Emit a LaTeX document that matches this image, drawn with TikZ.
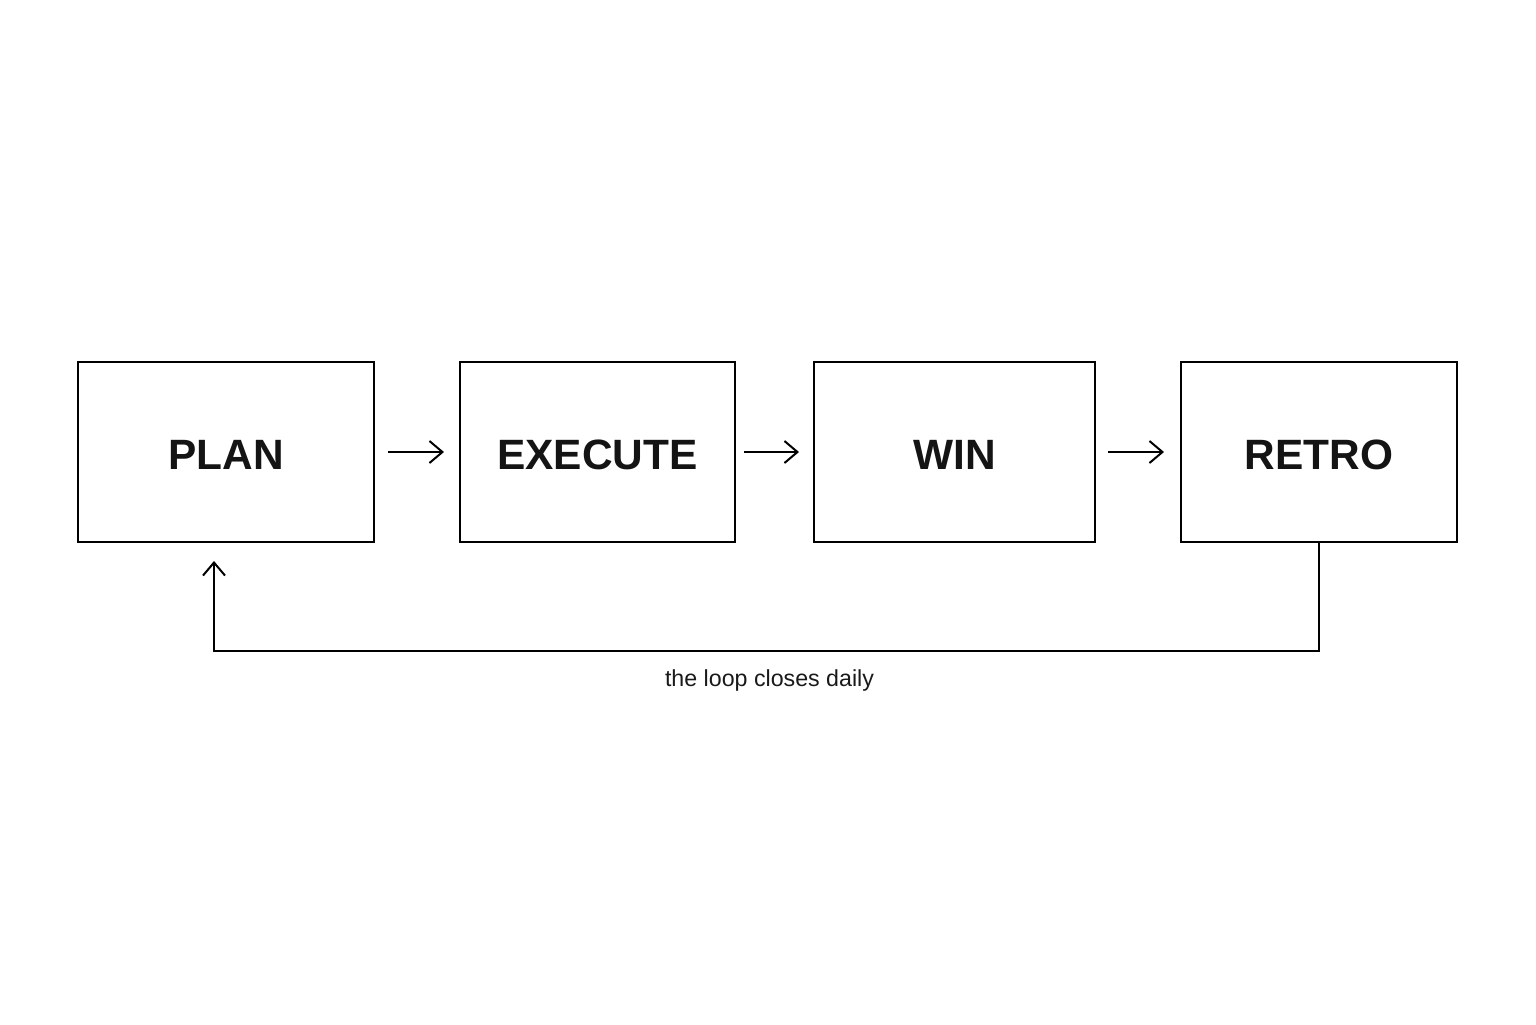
\documentclass[tikz,border=0pt]{standalone}
\usepackage{fontspec}
\setmainfont{Liberation Sans}
\usetikzlibrary{arrows.meta,calc}
\begin{document}
\begin{tikzpicture}[x=0.5pt,y=-0.5pt,
  stagebox/.style={draw=black,line width=1pt,minimum height=90pt,inner sep=0pt,
    label={[stagetext]center:#1}},
  stagetext/.style={yshift=-1.5pt,inner sep=0pt,
    font=\fontsize{21.2}{25}\selectfont\bfseries,text=black!92},
  arr/.style={line width=1pt,-{Straight Barb[length=6.5pt,width=11pt,line width=1pt]}},
  lbl/.style={font=\fontsize{11.6}{14}\selectfont,text=black!90}]
\useasboundingbox (0,0) rectangle (1536,1024);
\node[stagebox=PLAN,minimum width=148pt] (plan) at (226,452) {};
\node[stagebox=EXECUTE,minimum width=137.5pt] (exec) at (597.5,452) {};
\node[stagebox=WIN,minimum width=140.5pt] (win) at (954.5,452) {};
\node[stagebox=RETRO,minimum width=138pt] (retro) at (1319,452) {};
\draw[arr] ([xshift=6.5pt]plan.east) -- ([xshift=-7.5pt]exec.west);
\draw[arr] ([xshift=4pt]exec.east) -- ([xshift=-7pt]win.west);
\draw[arr] ([xshift=6pt]win.east) -- ([xshift=-8pt]retro.west);
\draw[arr] (retro.south) -- ++(0,108) coordinate (c1)
  -| node[pos=0.25,xshift=1.5pt,yshift=-14.5pt,lbl]{the loop closes daily}
  ([xshift=-6pt,yshift=-9pt]plan.south);
\end{tikzpicture}
\end{document}
